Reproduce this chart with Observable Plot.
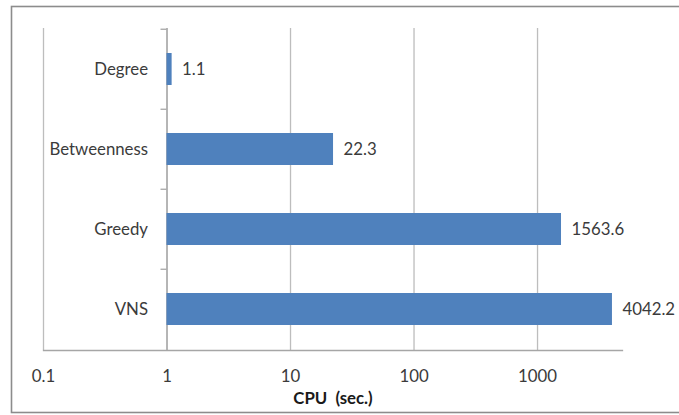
<!DOCTYPE html>
<html>
<head>
<meta charset="utf-8">
<script src="https://cdn.jsdelivr.net/npm/d3@7"></script>
<script src="https://cdn.jsdelivr.net/npm/@observablehq/plot@0.6"></script>
<style>
  html, body { margin: 0; padding: 0; background: #fff; }
  svg text { white-space: pre; }
</style>
</head>
<body>
<div id="chart"></div>
<script>
// CPU time per method (seconds), plotted on a log scale
const categories = ["Degree", "Betweenness", "Greedy", "VNS"];
const cpuSeconds = [1.1, 22.3, 1563.6, 4042.2];
const xTicks = [0.1, 1, 10, 100, 1000];
const xTickLabels = ["0.1", "1", "10", "100", "1000"];
const axisTitle = "CPU  (sec.)";
const axisOrigin = 1; // bars grow from the value axis crossing at 1

const data = categories.map((method, i) => ({ method, cpu: cpuSeconds[i] }));

const gridColor = "#bdbdbd";
const axisColor = "#a6a6a6";
const barColor = "#4f81bd";

const chart = Plot.plot({
  width: 679,
  height: 415,
  marginLeft: 43,
  marginRight: 57,
  marginTop: 28,
  marginBottom: 65,
  style: { fontFamily: "Lato, sans-serif", fontSize: "16.8px", color: "#3b3b3b", background: "#fff" },
  x: { type: "log", domain: [0.1, 4875] },
  y: { domain: categories, paddingInner: 0.6, paddingOuter: 0.3, axis: null },
  marks: [
    // vertical gridlines at each decade
    Plot.ruleX(xTicks, { stroke: gridColor, strokeWidth: 1.3 }),
    // bottom axis line
    Plot.frame({ anchor: "bottom", stroke: axisColor, strokeWidth: 1.3 }),
    // value axis crossing at 1, with tick marks between categories
    Plot.ruleX([axisOrigin], { stroke: axisColor, strokeWidth: 1.3 }),
    Plot.ruleY(categories, { y: d => d, x1: axisOrigin, x2: axisOrigin, insetLeft: -6, dy: -40.25, stroke: axisColor, strokeWidth: 1.3 }),
    // bars
    Plot.barX(data, { y: "method", x1: axisOrigin, x2: "cpu", fill: barColor }),
    // data labels
    Plot.text(data, { y: "method", x: "cpu", text: d => String(d.cpu), dx: 10, textAnchor: "start" }),
    // category labels
    Plot.text(categories, { y: d => d, x: axisOrigin, dx: -19, textAnchor: "end" }),
    // x axis tick labels
    Plot.axisX(xTicks, {
      tickFormat: d => xTickLabels[xTicks.indexOf(d)],
      tickSize: 0,
      tickPadding: 20,
      label: null,
      fontSize: 16.8
    }),
    // axis title
    Plot.text([axisTitle], { frameAnchor: "bottom", dy: 53, fontWeight: "bold", fill: "#1a1a1a" })
  ]
});

// outer chart border
d3.select(chart).append("rect")
  .attr("x", 11.5).attr("y", 6.5)
  .attr("width", 720).attr("height", 406)
  .attr("fill", "none")
  .attr("stroke", "#8c8c8c")
  .attr("stroke-width", 1.6);

document.getElementById("chart").append(chart);
</script>
</body>
</html>
